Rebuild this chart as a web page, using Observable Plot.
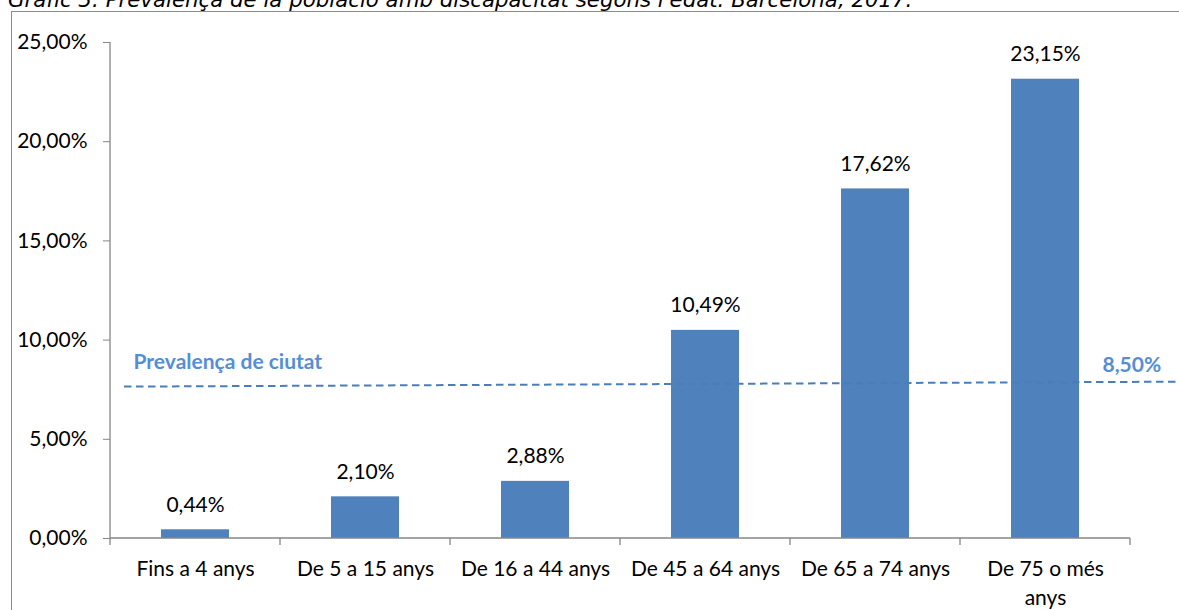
<!DOCTYPE html>
<html><head><meta charset="utf-8">
<script src="https://cdn.jsdelivr.net/npm/d3@7"></script>
<script src="https://cdn.jsdelivr.net/npm/@observablehq/plot@0.6"></script>
<style>
html,body{margin:0;padding:0;background:#fff;overflow:hidden;width:1179px;height:610px;}
#title{position:absolute;left:8px;top:-11px;font:italic 21.3px/21px "DejaVu Sans";white-space:nowrap;color:#000;}
#frame{position:absolute;left:11px;top:11px;width:1300px;height:700px;border:1.5px solid #8c8c8c;z-index:2;pointer-events:none;}
#chart{position:absolute;left:0;top:0;z-index:1;}
</style></head><body>
<div id="title">Gràfic 3. Prevalença de la població amb discapacitat segons l'edat. Barcelona, 2017.</div>
<div id="chart"></div>
<div id="frame"></div>
<script>
const categories = ["Fins a 4 anys", "De 5 a 15 anys", "De 16 a 44 anys", "De 45 a 64 anys", "De 65 a 74 anys", "De 75 o més anys"];
const tickLabels = ["Fins a 4 anys", "De 5 a 15 anys", "De 16 a 44 anys", "De 45 a 64 anys", "De 65 a 74 anys", "De 75 o més\nanys"];
const values = [0.44, 2.10, 2.88, 10.49, 17.62, 23.15];
const yTicks = [0, 5, 10, 15, 20, 25];
const cityPrevalence = 8.50;
const cityLabel = "Prevalença de ciutat";
const cityLineEnds = [7.63, 7.88]; // level of the drawn dashed line at its left and right ends

const fmt = v => v.toFixed(2).replace(".", ",") + "%";
const data = categories.map((c, i) => ({cat: c, value: values[i], label: fmt(values[i])}));
const tickMap = new Map(categories.map((c, i) => [c, tickLabels[i]]));

const axisColor = "#868686";
const barColor = "#4F81BD";
const lineColor = "#4A7EBB";
const labelBlue = "#558ED5";

function axisLines(index, scales, values, dims) {
  const g = d3.create("svg:g").attr("stroke", axisColor).attr("stroke-width", 1.3).attr("fill", "none");
  const x0 = dims.marginLeft, x1 = dims.width - dims.marginRight;
  const yb = scales.y(0), yt = scales.y(yTicks[yTicks.length - 1]);
  g.append("line").attr("x1", x0).attr("x2", x0).attr("y1", yt).attr("y2", yb);
  g.append("line").attr("x1", x0).attr("x2", x1).attr("y1", yb).attr("y2", yb);
  const n = categories.length;
  for (let i = 0; i <= n; i++) {
    const x = x0 + (x1 - x0) * i / n;
    g.append("line").attr("x1", x).attr("x2", x).attr("y1", yb).attr("y2", yb + 7);
  }
  return g.node();
}

function cityLine(index, scales, values, dims) {
  return d3.create("svg:line")
    .attr("x1", dims.marginLeft + 14).attr("x2", dims.width)
    .attr("y1", scales.y(cityLineEnds[0])).attr("y2", scales.y(cityLineEnds[1]))
    .attr("stroke", lineColor).attr("stroke-width", 2)
    .attr("stroke-dasharray", "7.5,4.5").node();
}

const chart = Plot.plot({
  width: 1179,
  height: 610,
  marginTop: 42,
  marginBottom: 72,
  marginLeft: 110,
  marginRight: 49,
  style: {fontFamily: "Lato", fontSize: "21px", color: "#000", background: "transparent", overflow: "visible"},
  x: {domain: categories, paddingInner: 0.6, paddingOuter: 0.3, label: null},
  y: {domain: [0, 25], label: null},
  marks: [
    Plot.barY(data, {x: "cat", y: "value", fill: barColor}),
    cityLine,
    axisLines,
    Plot.axisY({ticks: yTicks, tickSize: 7, tickPadding: 16, stroke: axisColor, fill: "#000", fontSize: 21, tickFormat: d => d.toFixed(2).replace(".", ",") + "%", label: null}),
    Plot.axisX({tickSize: 0, tickPadding: 17, fontSize: 21, lineHeight: 1.38, fill: "#000", tickFormat: d => tickMap.get(d), label: null}),
    Plot.text(data, {x: "cat", y: "value", text: "label", dy: -25, fontSize: 21, fill: "#000"}),
    Plot.text([cityLabel], {frameAnchor: "left", y: () => cityLineEnds[0], text: d => d, dx: 23, dy: -25, textAnchor: "start", fontWeight: "bold", fontSize: 21, fill: labelBlue}),
    Plot.text([cityPrevalence], {frameAnchor: "right", y: () => cityLineEnds[1], text: d => fmt(d), dx: -28, dy: -17, textAnchor: "start", fontWeight: "bold", fontSize: 21, fill: labelBlue})
  ]
});
document.getElementById("chart").appendChild(chart);
</script>
</body></html>
